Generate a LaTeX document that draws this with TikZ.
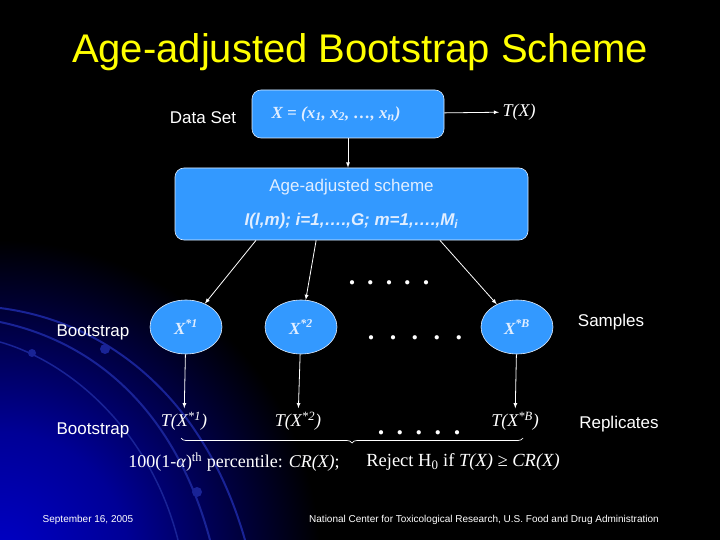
\documentclass[tikz,border=0pt]{standalone}
\usepackage{fontspec}
\setmainfont{Liberation Serif}
\setsansfont{Liberation Sans}
\usepackage{tikz}
\usetikzlibrary{shapes.geometric, arrows, positioning, calc, decorations.pathreplacing}
\definecolor{boxblue}{RGB}{51,153,255}
\definecolor{boxtext}{RGB}{225,238,255}
\definecolor{arcblue}{RGB}{25,35,150}
\definecolor{glowblue}{RGB}{0,0,200}
\pgfdeclareradialshading{cornerglow}{\pgfpoint{0bp}{0bp}}{color(0bp)=(glowblue); color(10bp)=(glowblue!75!black); color(25bp)=(black); color(50bp)=(black)}

\begin{document}
\begin{tikzpicture}[
    x=1pt, y=-1pt,
    box/.style={rectangle, rounded corners=9pt, draw=boxtext, line width=0.6pt, fill=boxblue, text=boxtext, align=center},
    sample/.style={ellipse, draw=boxtext, line width=0.6pt, fill=boxblue, text=boxtext, minimum width=72pt, minimum height=54pt, inner sep=0pt, font=\bfseries\itshape\fontsize{17}{20}\selectfont},
    lbl/.style={text=white, font=\sffamily\fontsize{17}{20}\selectfont},
    stat/.style={text=white, font=\itshape\fontsize{18}{21}\selectfont},
    dots/.style={text=white, font=\bfseries\fontsize{26}{28}\selectfont},
    foot/.style={text=white, font=\sffamily\fontsize{10}{12}\selectfont},
    arr/.style={draw=white, line width=0.8pt, -latex}
]
    % background
    \useasboundingbox (0,0) rectangle (720,540);
    \fill[black] (0,0) rectangle (720,540);
    \begin{scope}
        \clip (0,0) rectangle (720,540);
        \shade[shading=cornerglow] (0,560) circle (320);
        \draw[arcblue, line width=2pt] (0,308) .. controls (110,322) and (205,400) .. (245,540);
        \draw[arcblue, line width=2pt] (0,322) .. controls (95,342) and (175,410) .. (210,540);
        \draw[arcblue, line width=1.5pt] (0,342) .. controls (70,362) and (150,430) .. (178,540);
        \fill[arcblue] (105,349) circle (5);
        \fill[arcblue] (32,353) circle (4);
        \fill[arcblue] (197,492) circle (5);
    \end{scope}

    \node[text={rgb,255:red,255;green,255;blue,0}, font=\sffamily\fontsize{40}{44}\selectfont] (title) at (360,52) {Age-adjusted Bootstrap Scheme};

    \node[lbl] (dataset) at (203,118) {Data Set};
    \node[box, minimum width=192pt, minimum height=48pt, font=\bfseries\itshape\fontsize{17}{20}\selectfont] (xbox) at (348,114) {X = (x\textsubscript{1}, x\textsubscript{2}, …, x\textsubscript{n})\hspace{24pt}};
    \node[stat] (tx) at (519,112) {T(X)};

    \node[box, minimum width=353pt, minimum height=72pt, font=\sffamily\fontsize{17}{34}\selectfont] (scheme) at (351.5,204) {Age-adjusted scheme\\ \bfseries\itshape I(l,m); i=1,….,G; m=1,….,M\textsubscript{i}};

    % samples
    \node[lbl] (boot1) at (93,332) {Bootstrap};
    \node[sample] (s1) at (186,327) {X\textsuperscript{*1}};
    \node[sample] (s2) at (301,327) {X\textsuperscript{*2}};
    \node[sample] (sB) at (517,327) {X\textsuperscript{*B}};
    \node[dots] (dotsa) at (389,283) {.\hspace{12pt}.\hspace{12pt}.\hspace{12pt}.\hspace{12pt}.};
    \node[dots] (dotsb) at (415,338) {.\hspace{15.5pt}.\hspace{15.5pt}.\hspace{15.5pt}.\hspace{15.5pt}.};
    \node[lbl] (samples) at (611,322) {Samples};

    % replicates
    \node[lbl] (boot2) at (93,430) {Bootstrap};
    \node[stat] (t1) at (184,421) {T(X\textsuperscript{*1})};
    \node[stat] (t2) at (298,421) {T(X\textsuperscript{*2})};
    \node[stat] (tB) at (515,421) {T(X\textsuperscript{*B})};
    \node[dots] (dotsc) at (419,433) {.\hspace{12.5pt}.\hspace{12.5pt}.\hspace{12.5pt}.\hspace{12.5pt}.};
    \node[lbl] (replicates) at (619,424) {Replicates};

    \coordinate (bl) at (181,438);
    \coordinate (br) at (523,438);
    \draw[white, line width=0.7pt, decorate, decoration={brace, mirror, amplitude=5pt}] (bl) -- (br);

    \node[text=white, font=\fontsize{18}{21}\selectfont] (pct) at (234,462) {100(1-\textit{α})\textsuperscript{th} percentile: \textit{CR(X)};};
    \node[text=white, font=\fontsize{18.5}{21}\selectfont] (reject) at (463,462) {Reject H\textsubscript{0} if \textit{T(X) ≥ CR(X)}};

    \node[foot] (date) at (88,520) {September 16, 2005};
    \node[foot] (nctr) at (484,520) {National Center for Toxicological Research, U.S. Food and Drug Administration};

    \path[arr] (xbox) -- (tx);
    \path[arr] (xbox.south) -- (xbox.south |- scheme.north);
    \path[arr] ($(scheme.south west)!0.23!(scheme.south east)$) -- (s1);
    \path[arr] ($(scheme.south west)!0.40!(scheme.south east)$) -- (s2);
    \path[arr] ($(scheme.south west)!0.75!(scheme.south east)$) -- (sB);
    \path[arr] (s1) -- (t1);
    \path[arr] (s2) -- (t2);
    \path[arr] (sB) -- (tB);
\end{tikzpicture}
\end{document}
